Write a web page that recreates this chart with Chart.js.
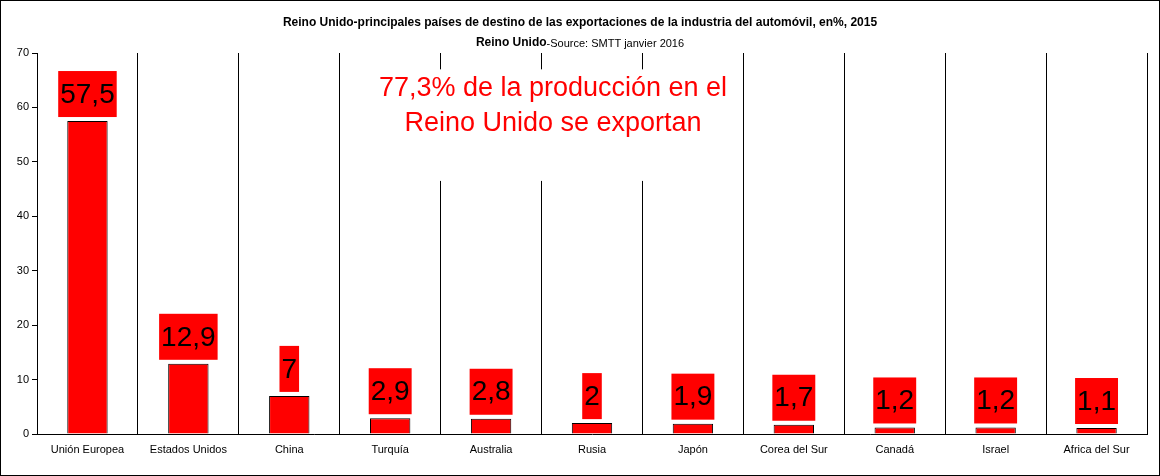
<!DOCTYPE html>
<html><head><meta charset="utf-8">
<script src="https://cdn.jsdelivr.net/npm/chart.js@4"></script>
<style>html,body{margin:0;padding:0;background:#fff}#w{width:1160px;height:476px;position:relative}</style>
</head><body><div id="w"><canvas id="c"></canvas></div>
<script>
const categories = ["Unión Europea","Estados Unidos","China","Turquía","Australia","Rusia","Japón","Corea del Sur","Canadá","Israel","Africa del Sur"];
const values = [57.5,12.9,7,2.9,2.8,2,1.9,1.7,1.2,1.2,1.1];
const valueLabels = ["57,5","12,9","7","2,9","2,8","2","1,9","1,7","1,2","1,2","1,1"];
const titleText = "Reino Unido-principales países de destino de las exportaciones de la industria del automóvil, en%, 2015";
const subBold = "Reino Unido";
const subNormal = "-Source: SMTT janvier 2016";
const noteLines = ["77,3% de la producción en el","Reino Unido se exportan"];

const F = "'Liberation Sans', Arial, sans-serif";
const plug = {
  id:'custom',
  beforeDatasetsDraw(chart){
    const ctx = chart.ctx, a = chart.chartArea;
    const x = chart.scales.x, y = chart.scales.y;
    ctx.save();
    ctx.fillStyle='#fff';
    const cx = (x.getPixelForValue(3)+x.getPixelForValue(6))/2 + 0;
    ctx.fillRect(341, y.getPixelForValue(67), 402, y.getPixelForValue(46.5)-y.getPixelForValue(67));
    ctx.fillStyle='#ff0000';
    ctx.font = "27px "+F; ctx.textAlign='center'; ctx.textBaseline='middle';
    ctx.fillText(noteLines[0], 553, 89);
    ctx.fillText(noteLines[1], 553, 124);
    ctx.restore();
  },
  afterDatasetsDraw(chart){
    const ctx = chart.ctx, meta = chart.getDatasetMeta(0);
    ctx.save();
    ctx.font = "28px "+F; ctx.textAlign='center'; ctx.textBaseline='middle';
    meta.data.forEach((b,i)=>{
      const w = ctx.measureText(valueLabels[i]).width + 4;
      const bottom = b.y - 4, h = 46;
      ctx.fillStyle='#ff0000';
      ctx.fillRect(b.x - w/2, bottom - h, w, h);
      ctx.fillStyle='#000';
      ctx.fillText(valueLabels[i], b.x, bottom - h/2 + 1);
    });
    // title
    ctx.fillStyle='#000';
    ctx.font = "bold 12px "+F;
    ctx.fillText(titleText, 580, 23);
    ctx.font = "bold 12px "+F;
    const w1 = ctx.measureText(subBold).width;
    ctx.font = "11px "+F;
    const w2 = ctx.measureText(subNormal).width;
    const sx = 580 - (w1+w2)/2;
    ctx.textAlign='left';
    ctx.font = "bold 12px "+F; ctx.fillText(subBold, sx, 43);
    ctx.font = "11px "+F; ctx.fillText(subNormal, sx+w1, 44);
    ctx.strokeStyle='#000'; ctx.lineWidth=1;
    ctx.strokeRect(0.5,0.5,1159,475);
    ctx.restore();
  }
};
new Chart(document.getElementById('c'),{
  type:'bar',
  data:{labels:categories,datasets:[{data:values,backgroundColor:'#ff0000',borderColor:'#000',borderWidth:1,barPercentage:0.4,categoryPercentage:1}]},
  options:{
    responsive:true,maintainAspectRatio:false,animation:false,devicePixelRatio:1,
    layout:{padding:{top:53,right:13,left:0,bottom:0}},
    plugins:{legend:{display:false},tooltip:{enabled:false},title:{display:false}},
    scales:{
      x:{grid:{offset:true,color:'#000',drawTicks:false},border:{color:'#000'},
         ticks:{color:'#000',font:{family:F,size:11},padding:9,maxRotation:0},
         afterFit(s){s.height=42;}},
      y:{min:0,max:70,grid:{drawOnChartArea:false,color:'#000',tickLength:5},border:{color:'#000'},
         ticks:{stepSize:10,color:'#000',font:{family:F,size:11},padding:3},
         afterFit(s){s.width=37;}}
    }
  },
  plugins:[plug]
});
</script></body></html>
